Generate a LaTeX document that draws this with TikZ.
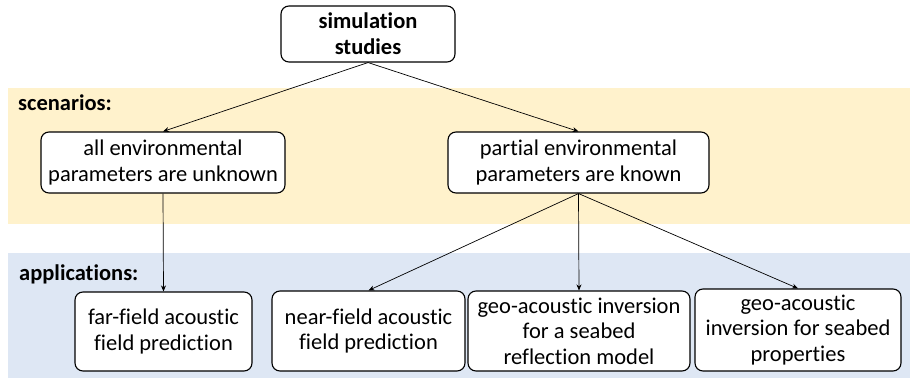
\documentclass[tikz,border=0pt]{standalone}
\usepackage{fontspec}
\setmainfont{Carlito}[Ligatures=NoCommon]
\usetikzlibrary{arrows.meta}

\definecolor{scenfill}{HTML}{FFF2CC}
\definecolor{appfill}{HTML}{DEE7F4}

\newcommand{\boxfont}{\fontsize{22.5}{25.5}\selectfont}

\tikzset{
  box/.style={draw, rounded corners=8pt, fill=white, line width=1.1pt,
    align=center, inner sep=0pt},
  link/.style={-{Stealth[length=6pt,width=5pt]}, line width=0.7pt},
  bandlabel/.style={anchor=base west, inner sep=0pt, font=\boxfont\bfseries}
}

\begin{document}
\begin{tikzpicture}[x=1pt, y=-1pt, every node/.style={font=\boxfont}]
  \useasboundingbox (0,0) rectangle (910,388);

  % Bands
  \fill[scenfill] (8,88) rectangle (910,224);
  \fill[appfill] (8,253) rectangle (910,378);
  \node[bandlabel] (scenlabel) at (18,110) {scenarios:};
  \node[bandlabel] (applabel) at (19,280) {applications:};

  % Top
  \node[box, minimum width=174pt, minimum height=56pt, font=\fontsize{22.5}{26}\selectfont\bfseries]
    (sim) at (368,34) {simulation\\studies};

  % Scenarios
  \node[box, minimum width=244pt, minimum height=61pt] (allenv) at (163,162.5)
    {all environmental\\parameters are unknown};
  \node[box, minimum width=261pt, minimum height=61pt] (partenv) at (578.5,162.5)
    {partial environmental\\parameters are known};

  % Applications
  \node[box, minimum width=177pt, minimum height=79pt] (far) at (163.5,331.5)
    {far-field acoustic\\field prediction};
  \node[box, minimum width=193pt, minimum height=80pt] (near) at (368.5,331)
    {near-field acoustic\\field prediction};
  \node[box, minimum width=222pt, minimum height=80pt] (geoa) at (579,331)
    {geo-acoustic inversion\\for a seabed\\reflection model};
  \node[box, minimum width=206pt, minimum height=82pt] (geob) at (798,330)
    {geo-acoustic\\inversion for seabed\\properties};

  % Links
  \draw[link] (sim.south) -- (allenv.north);
  \draw[link] (sim.south) -- (partenv.north);
  \draw[link] (allenv.south) -- (far.north);
  \draw[link] (partenv.south) -- (near.north);
  \draw[link] (partenv.south) -- (geoa.north);
  \draw[link] (partenv.south) -- (geob.north);
\end{tikzpicture}
\end{document}
